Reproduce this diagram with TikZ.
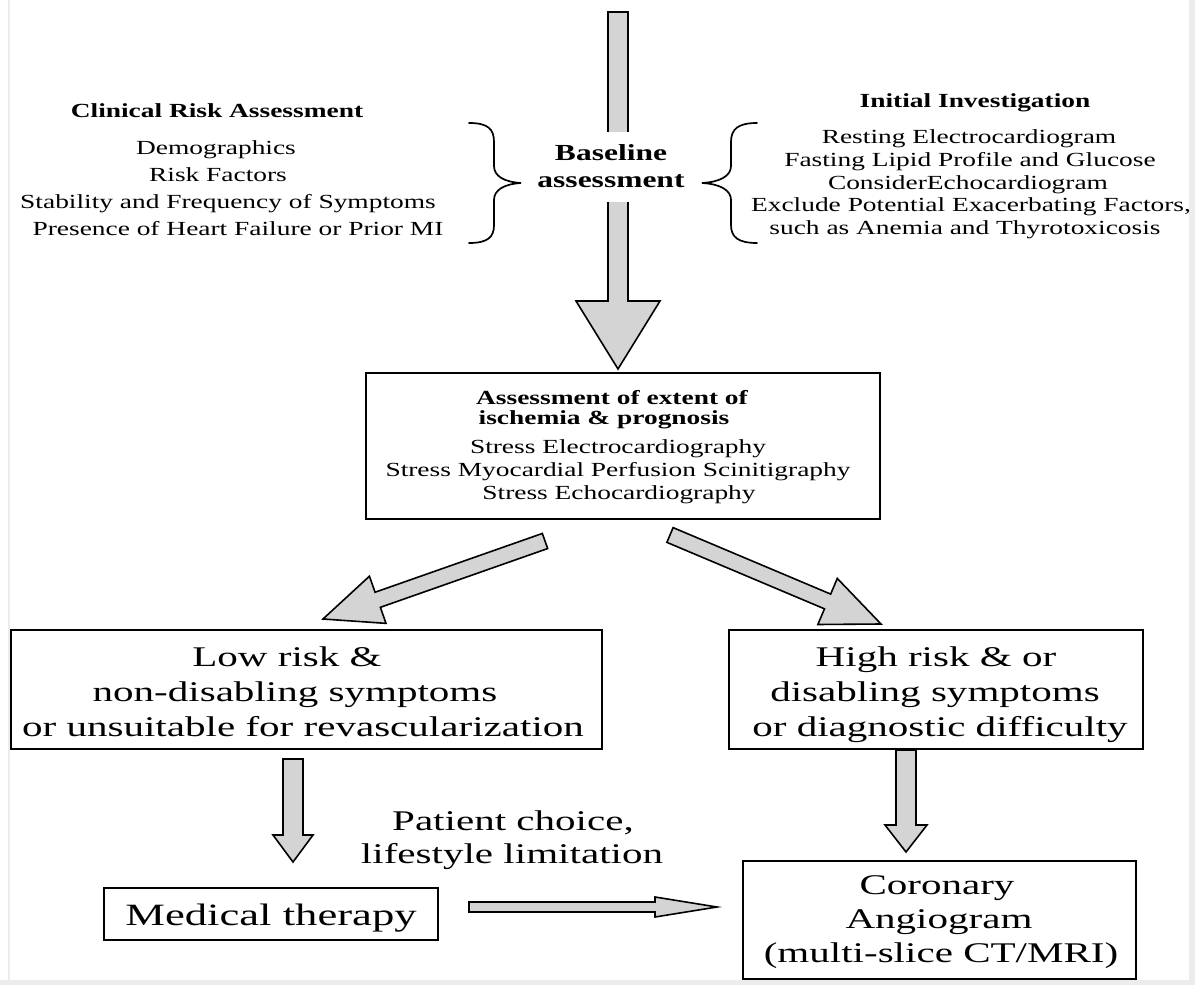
\documentclass[tikz,border=0pt]{standalone}
\usepackage{fontspec}
\setmainfont{Liberation Serif}
\usepackage{graphicx}
\usetikzlibrary{calc}
\definecolor{arrowgray}{RGB}{212,212,212}
\definecolor{framegray}{RGB}{236,236,236}
\newcommand\sa[1]{\scalebox{1.37}[1]{#1}}
\newcommand\sbig[1]{\scalebox{1.44}[1]{#1}}
\newcommand\blockarrow[5]{%
  \path ($(#2)!#5!(#1)$) coordinate (hb);
  \draw[barrow] ($(#1)!#3!90:(#2)$) -- ($(hb)!#3!-90:(#1)$) -- ($(hb)!#4!-90:(#1)$) -- (#2)
    -- ($(hb)!#4!90:(#1)$) -- ($(hb)!#3!90:(#1)$) -- ($(#1)!#3!-90:(#2)$) -- cycle;}
\tikzset{
  barrow/.style={draw=black, fill=arrowgray, line width=1.6pt, line join=miter},
  box/.style={draw=black, line width=1.6pt, inner sep=0pt, fill=none},
  small/.style={anchor=base, inner sep=0pt, font=\fontsize{20}{24}\selectfont},
  smallb/.style={small, font=\fontsize{20}{24}\selectfont\bfseries},
  big/.style={anchor=base, inner sep=0pt, font=\fontsize{28.5}{34}\selectfont},
  brace/.style={draw=black, line width=1.7pt, line cap=round},
}
\begin{document}
\begin{tikzpicture}[x=1pt,y=-1pt]
\useasboundingbox (0,0) rectangle (1195,985);
% page frame
\fill[framegray] (1189,0) rectangle (1195,985);
\fill[framegray] (0,980) rectangle (1195,985);
\draw[framegray, line width=1.2pt] (9,0) -- (9,980);

% boxes
\node[box, minimum width=514, minimum height=146] (mid) at (623,446) {};
\node[box, minimum width=591, minimum height=119] (low) at (306.5,689.5) {};
\node[box, minimum width=414, minimum height=119] (high) at (936,689.5) {};
\node[box, minimum width=334, minimum height=52] (med) at (271,914) {};
\node[box, minimum width=393, minimum height=118] (cor) at (939.5,920) {};

% top arrow
\coordinate (topS) at (618,12);
\coordinate (topT) at (618,369);
\blockarrow{topS}{topT}{10pt}{42pt}{68pt}

% baseline text with white ground over the shaft
\fill[white] (596,132) rectangle (640,202);
\node[small, font=\fontsize{23}{27}\selectfont\bfseries] (base1) at (611,160) {\sa{Baseline}};
\node[small, font=\fontsize{23}{27}\selectfont\bfseries] (base2) at (611,187) {\sa{assessment}};

% braces
\draw[brace] (469,123) .. controls (488,123) and (494,129) .. (494,142) -- (494,166)
  .. controls (494,176) and (504,182) .. (521,183)
  .. controls (504,184) and (494,190) .. (494,200) -- (494,225)
  .. controls (494,237) and (488,243) .. (469,243);
\draw[brace] (757,123) .. controls (738,123) and (731,129) .. (731,142) -- (731,166)
  .. controls (731,176) and (720,182) .. (702,183)
  .. controls (720,184) and (731,190) .. (731,200) -- (731,225)
  .. controls (731,237) and (738,243) .. (757,243);

% left block
\node[smallb] (crt) at (217,117) {\sa{Clinical Risk Assessment}};
\node[small] (cr1) at (216,154) {\sa{Demographics}};
\node[small] (cr2) at (218,181) {\sa{Risk Factors}};
\node[small] (cr3) at (228,208) {\sa{Stability and Frequency of Symptoms}};
\node[small] (cr4) at (238,235) {\sa{Presence of Heart Failure or Prior MI}};

% right block
\node[smallb] (iit) at (975,107) {\sa{Initial Investigation}};
\node[small] (ii1) at (969,143) {\sa{Resting Electrocardiogram}};
\node[small] (ii2) at (970,166) {\sa{Fasting Lipid Profile and Glucose}};
\node[small] (ii3) at (968,189) {\sa{ConsiderEchocardiogram}};
\node[small] (ii4) at (971,211) {\sa{Exclude Potential Exacerbating Factors,}};
\node[small] (ii5) at (965,234) {\sa{such as Anemia and Thyrotoxicosis}};

% middle box text
\node[smallb] (m1) at (612,404) {\sa{Assessment of extent of}};
\node[smallb] (m2) at (604,424) {\sa{ischemia \& prognosis}};
\node[small] (m3) at (618,453) {\sa{Stress Electrocardiography}};
\node[small] (m4) at (618,476) {\sa{Stress Myocardial Perfusion Scinitigraphy}};
\node[small] (m5) at (619,499) {\sa{Stress Echocardiography}};

% diagonal arrows
\coordinate (dlS) at (545,541);
\coordinate (dlT) at (323,619);
\blockarrow{dlS}{dlT}{8pt}{25pt}{58pt}
\coordinate (drS) at (670,535);
\coordinate (drT) at (881,624);
\blockarrow{drS}{drT}{8pt}{25pt}{58pt}

% low / high box text
\node[big] (l1) at (287,666) {\sbig{Low risk \&}};
\node[big] (l2) at (295,701) {\sbig{non-disabling symptoms}};
\node[big] (l3) at (303,736) {\sbig{or unsuitable for revascularization}};
\node[big] (h1) at (936,666) {\sbig{High risk \& or}};
\node[big] (h2) at (935,701) {\sbig{disabling symptoms}};
\node[big] (h3) at (940,736) {\sbig{or diagnostic difficulty}};

% down arrows
\coordinate (ldS) at (293,759);
\coordinate (ldT) at (293,862);
\blockarrow{ldS}{ldT}{10pt}{20pt}{27pt}
\coordinate (rdS) at (906,750);
\coordinate (rdT) at (906,852);
\blockarrow{rdS}{rdT}{10pt}{21pt}{27pt}

% patient choice
\node[big] (pc1) at (513,830) {\sbig{Patient choice,}};
\node[big] (pc2) at (512,863) {\sbig{lifestyle limitation}};

% medical therapy
\node[big, font=\fontsize{31}{36}\selectfont] (mt) at (271,925) {\sbig{Medical therapy}};

% horizontal arrow
\coordinate (hS) at (469,907);
\coordinate (hT) at (717,907);
\blockarrow{hS}{hT}{5pt}{10pt}{62pt}

% coronary text
\node[big] (c1) at (937,894) {\sbig{Coronary}};
\node[big] (c2) at (939,928) {\sbig{Angiogram}};
\node[big] (c3) at (941,962) {\sbig{(multi-slice CT/MRI)}};
\end{tikzpicture}
\end{document}
